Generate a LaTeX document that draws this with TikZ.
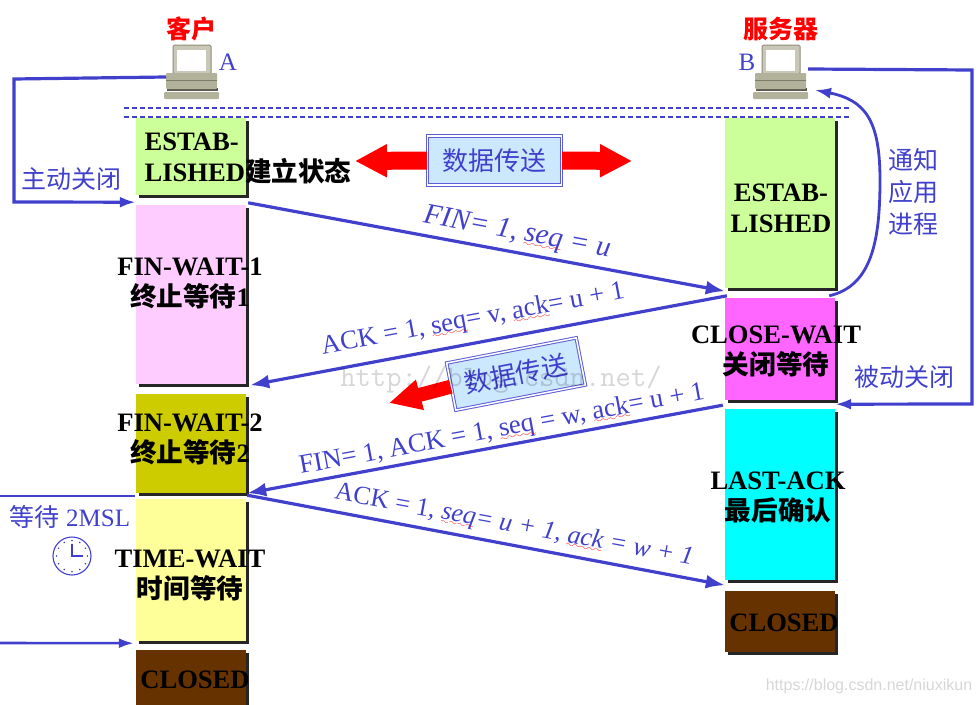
\documentclass[tikz,border=0pt]{standalone}
\usepackage{fontspec}
\setmainfont{Liberation Serif}
\setsansfont{Liberation Sans}
\newfontfamily\cjk{Noto Sans CJK SC}
\usetikzlibrary{arrows.meta,shadows}
\definecolor{lineblue}{HTML}{4040CC}
\definecolor{iconbody}{HTML}{B2B199}
\definecolor{databoxfill}{HTML}{CCE8FF}
\font\wavefont=lasy6 scaled 1400
\newcommand{\redwave}[1]{\setbox0\hbox{#1}\rlap{\copy0}\rlap{\lower4.5pt\hbox to\wd0{\color{red}\xleaders\hbox{\wavefont\char58}\hfill}}\hskip\wd0\relax}
\tikzset{
  statebox/.style={draw=none, inner sep=0pt, minimum width=110pt,
    drop shadow={shadow xshift=3pt, shadow yshift=-3pt, fill=black!85, opacity=1}},
  statetext/.style={align=center, inner sep=0pt, text=black,
    font=\fontsize{26.6}{31}\selectfont\bfseries},
  flowline/.style={draw=lineblue, line width=3.2pt, -{Latex[length=19pt,width=14pt]}},
  flowtext/.style={text=lineblue, inner sep=0pt, font=\fontsize{25}{32}\selectfont},
  hosttext/.style={text=red, inner sep=0pt, font=\fontsize{25}{30}\selectfont\cjk\bfseries},
  databox/.style={draw=lineblue!85, double=white, double distance=1.5pt, line width=1pt,
    fill=databoxfill, inner sep=0pt, text=lineblue, font=\fontsize{26}{30}\selectfont\cjk},
  bigarrow/.style={draw=red, line width=18pt, -{Triangle[length=32pt,width=31pt]}},
  mark text/.style={text=black, opacity=.16, inner sep=0pt}
}
\newcommand{\computer}[1]{
  \begin{scope}[shift={(#1,0)}]
  \fill[iconbody!50!black] (-24,88) rectangle (27,91);
  \filldraw[draw=iconbody!80!black, fill=iconbody!70!white, line width=1pt, rounded corners=1.5pt] (-18,45) rectangle (20,74);
  \fill[white] (-14,50) rectangle (15,71);
  \fill[iconbody, rounded corners=1pt] (-25,73) rectangle (26,89);
  \draw[iconbody!70!black, line width=.8pt] (-25,80) -- (26,80);
  \fill[iconbody, rounded corners=1pt] (-27,92) rectangle (28,99);
  \end{scope}
}
\begin{document}
\begin{tikzpicture}[x=1pt,y=-1pt]
\useasboundingbox (0,0) rectangle (979,704);
% hosts
\computer{191}
\computer{780}
\node[hosttext] (hosta) at (191,29) {客户};
\node[hosttext] (hostb) at (781,29) {服务器};
\node[flowtext] (namea) at (228,62) {A};
\node[flowtext] (nameb) at (747,62) {B};
\coordinate (aport) at (166,77);
\coordinate (bport) at (808,69);
\coordinate (bnote) at (815,90);
% time lines
\draw[lineblue, dash pattern=on 5pt off 3pt, line width=1.2pt] (124,108) -- (851,108);
\draw[lineblue, dash pattern=on 5pt off 3pt, line width=1.2pt] (124,117) -- (851,117);
% client states
\node[statebox, fill={rgb,255:red,204;green,255;blue,153}, minimum height=77pt] (cestab) at (191,156.5) {};
\node[statebox, fill={rgb,255:red,255;green,204;blue,255}, minimum height=179pt] (cfinone) at (191,294.5) {};
\node[statebox, fill={rgb,255:red,204;green,204;blue,0}, minimum height=99pt] (cfintwo) at (191,443.5) {};
\node[statebox, fill={rgb,255:red,255;green,255;blue,153}, minimum height=142pt] (cwait) at (191,570) {};
\node[statebox, fill={rgb,255:red,102;green,51;blue,0}, minimum height=61pt] (cclosed) at (191,680) {};
% server states
\node[statebox, fill={rgb,255:red,204;green,255;blue,153}, minimum height=170pt] (sestab) at (780,203) {};
\node[statebox, fill={rgb,255:red,255;green,102;blue,255}, minimum height=102pt] (sclose) at (780,349) {};
\node[statebox, fill={rgb,255:red,0;green,255;blue,255}, minimum height=171pt] (slast) at (780,494.5) {};
\node[statebox, fill={rgb,255:red,102;green,51;blue,0}, minimum height=61pt] (sclosed) at (780,621.5) {};
% state names
\node[statetext, align=left] (tcestab) at (248,158) {ESTAB-\\LISHED{\cjk 建立状态}};
\node[statetext] (tcfinone) at (190,283) {FIN-WAIT-1\\{\cjk 终止等待}1};
\node[statetext] (tcfintwo) at (190,439) {FIN-WAIT-2\\{\cjk 终止等待}2};
\node[statetext] (tcwait) at (190,575) {TIME-WAIT\\{\cjk 时间等待}};
\node[statetext] (tcclosed) at (195,680) {CLOSED};
\node[statetext] (tsestab) at (781,208) {ESTAB-\\LISHED};
\node[statetext] (tsclose) at (776,351) {CLOSE-WAIT\\{\cjk 关闭等待}};
\node[statetext] (tslast) at (778,497) {LAST-ACK\\{\cjk 最后确认}};
\node[statetext] (tsclosed) at (784,623) {CLOSED};
% data transfer
\node[databox, minimum width=134pt, minimum height=49pt] (databoth) at (494.5,160.5) {数据传送};
\node[databox, minimum width=132pt, minimum height=48pt, rotate=11] (databack) at (516,374) {数据传送};
\coordinate (tipleft) at (355,161);
\coordinate (tipright) at (632,161);
\coordinate (tipback) at (389,403);
\draw[bigarrow] (databoth.west) -- (tipleft);
\draw[bigarrow] (databoth.east) -- (tipright);
\draw[bigarrow, line width=14pt, -{Triangle[length=32pt,width=29pt]}] (databack.west) -- (tipback);
% segments
\draw[flowline] ([xshift=2pt,yshift=2pt]cfinone.north east) -- ([yshift=-3pt]sestab.south west);
\draw[flowline] ([xshift=2pt,yshift=2pt]sclose.north west) -- ([xshift=4pt,yshift=-1pt]cfinone.south east);
\draw[flowline] ([xshift=-2pt,yshift=-5pt]sclose.south west) -- ([xshift=1pt]cfintwo.south east);
\draw[flowline] ([xshift=1pt,yshift=-2pt]cfintwo.south east) -- ([yshift=-5pt]slast.south west);
\node[flowtext, rotate=-10.5, font=\fontsize{29}{32}\selectfont] (segfin) at (517,233) {\textit{FIN= 1, \redwave{seq} = u}};
\node[flowtext, rotate=10.5, font=\fontsize{26.7}{32}\selectfont] (segack) at (473,320) {ACK = 1, \redwave{seq}= v, \redwave{ack}= u + 1};
\node[flowtext, rotate=10.5, font=\fontsize{26.7}{32}\selectfont] (segfintwo) at (502,430) {FIN= 1, ACK = 1, \redwave{seq} = w, \redwave{ack}= u + 1};
\node[flowtext, rotate=-10.5, font=\fontsize{26}{32}\selectfont] (seglast) at (514,526) {ACK = 1, \textit{\redwave{seq}= u + 1, \redwave{ack} = w + 1}};
% side paths
\coordinate (waittop) at (-1,496);
\coordinate (waitlow) at (-1,643);
\coordinate (aleft) at (14,79);
\coordinate (aleftlow) at (14,202);
\coordinate (bright) at (972,70);
\coordinate (brightlow) at (972,404);
\draw[flowline, -{Latex[length=16pt,width=11pt]}] (aport) -- (aleft) -- (aleftlow) -- ([yshift=-7pt]cestab.south west);
\draw[flowline, -{Latex[length=16pt,width=11pt]}] (bport) -- (bright) -- (brightlow) -- ([yshift=-4pt]sclose.south east);
\draw[flowline, line width=2.8pt, -{Latex[length=16pt,width=11pt]}] ([xshift=-6pt,yshift=2pt]sclose.north east) .. controls (872,286) and (880,240) .. (880,180) .. controls (880,120) and (865,100) .. (bnote);
\draw[flowline, line width=2.6pt, -] ([xshift=-1pt]cfintwo.south west |- waittop) -- (waittop) -- (waitlow);
\draw[flowline, line width=2.6pt, -{Latex[length=15pt,width=10pt]}] (waitlow) -- ([xshift=-2pt,yshift=-2pt]cwait.south west);
\node[flowtext] (tactive) at (71,179) {\cjk 主动关闭};
\node[flowtext] (tpassive) at (904,377) {\cjk 被动关闭};
\node[flowtext, align=center] (tnotify) at (913,192) {{\cjk 通知}\\{\cjk 应用}\\{\cjk 进程}};
\node[flowtext] (twait) at (70,517) {{\cjk 等待} 2MSL};
% clock
\draw[lineblue, line width=1.1pt] (72,556) circle (19);
\foreach \a in {0,30,...,330}
  \fill[lineblue] (72,556) ++(\a:15.5) circle (.9);
\draw[lineblue, line width=1.8pt] (72,544) -- (72,556) -- (83,556);
% watermark
\node[mark text, font=\fontsize{29.7}{32}\ttfamily] (markmid) at (501,380) {http://blog.csdn.net/};
\node[mark text, font=\fontsize{16}{18}\sffamily] (markurl) at (869,686) {https://blog.csdn.net/niuxikun};
\end{tikzpicture}
\end{document}
